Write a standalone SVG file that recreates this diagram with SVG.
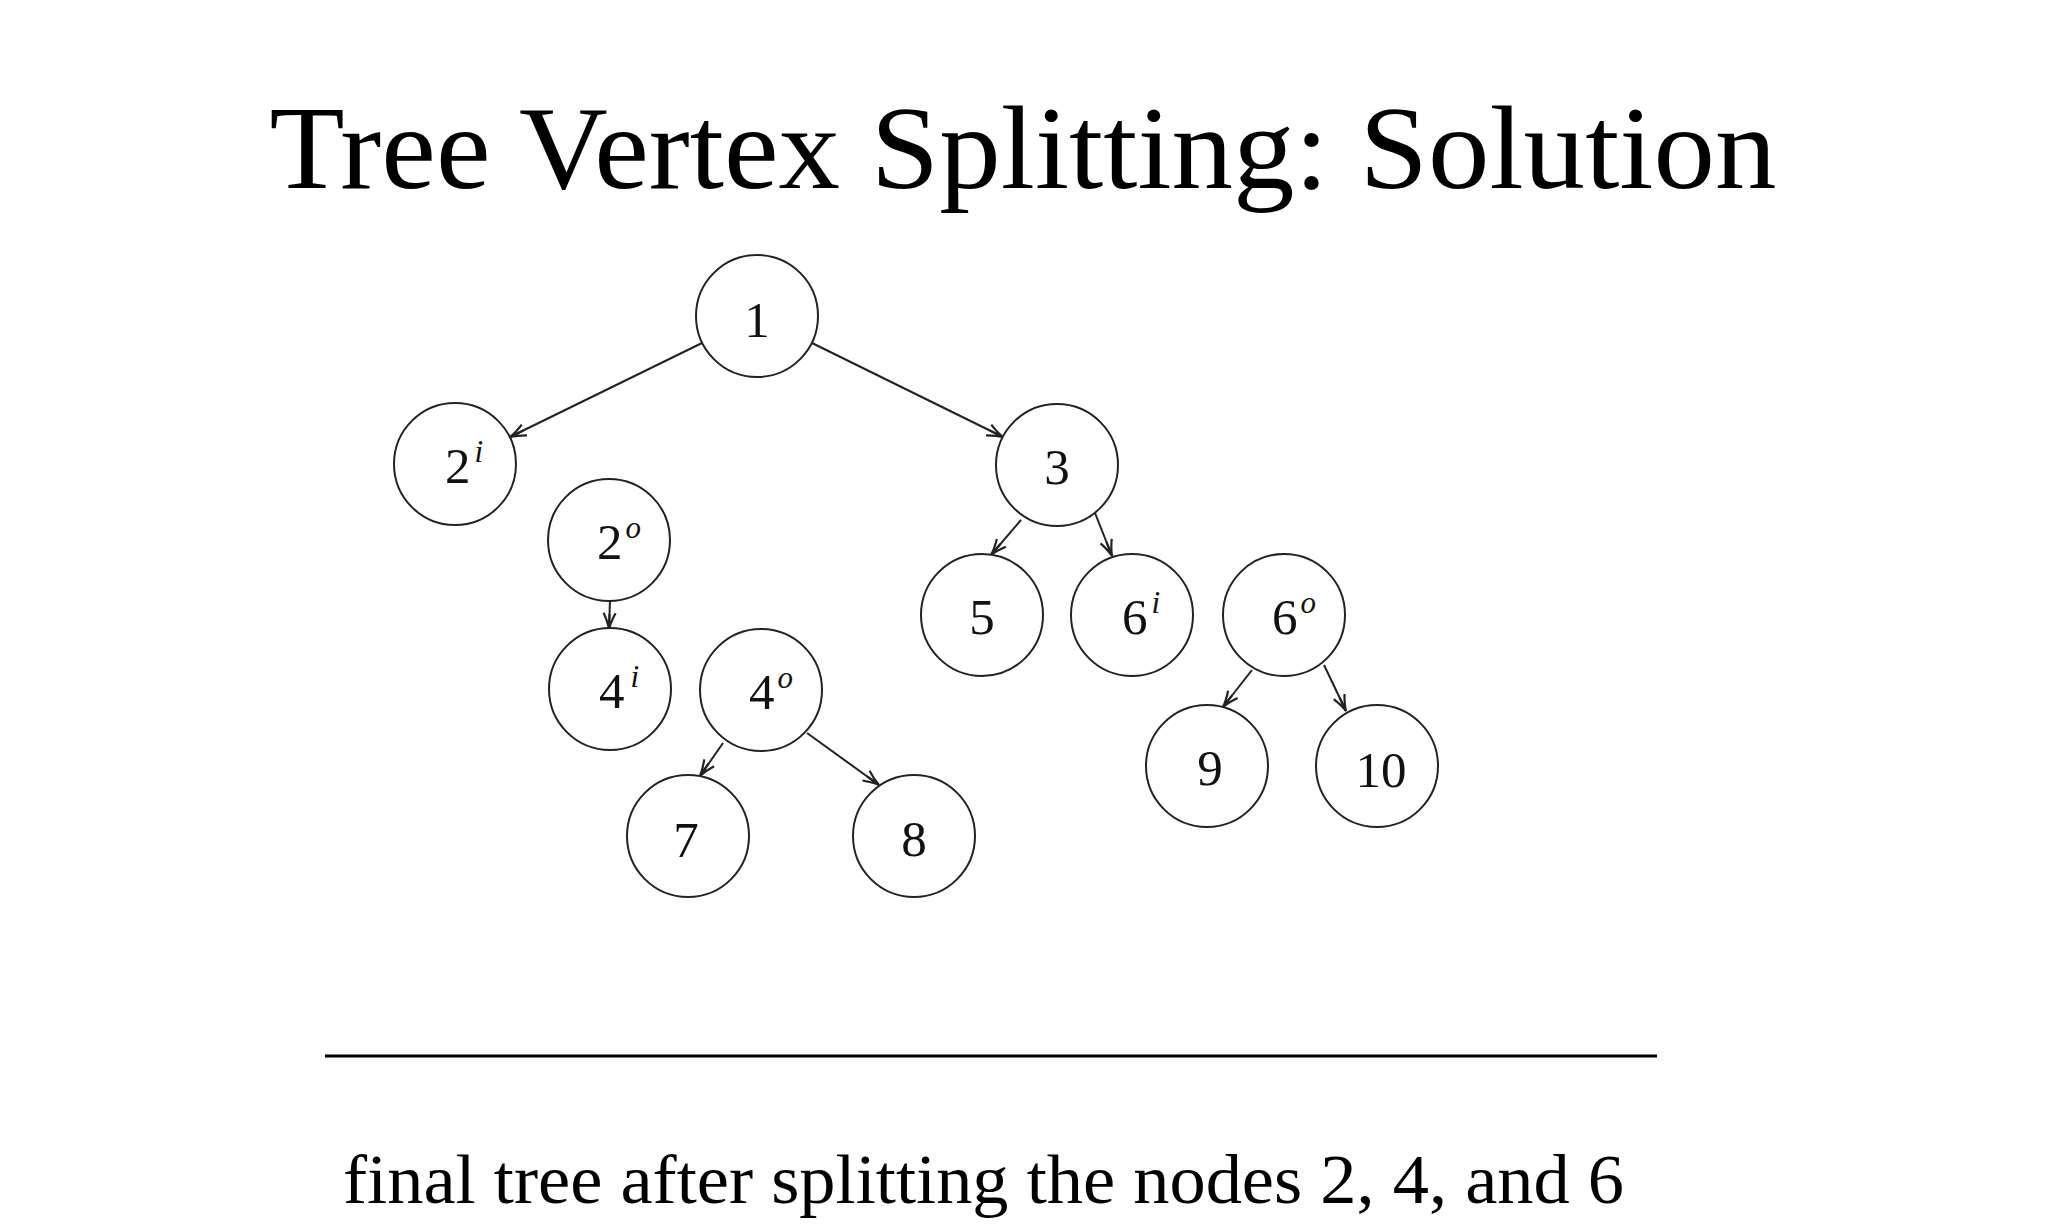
<svg xmlns="http://www.w3.org/2000/svg" width="2048" height="1229" viewBox="0 0 2048 1229">
<style>
.node circle{fill:#fff;stroke:#222;stroke-width:2}
.node text{font-family:"Liberation Serif",serif;font-size:51px;fill:#111;text-anchor:middle}
.sup{font-style:italic;font-size:31px}
.edge{stroke:#222;stroke-width:2;fill:none;marker-end:url(#arr)}
</style>
<defs>
<marker id="arr" markerUnits="userSpaceOnUse" viewBox="-18 -8 20 16" refX="0" refY="0" markerWidth="20" markerHeight="16" orient="auto" overflow="visible">
<path d="M-16,-6 Q-7,-1.5 0,0 Q-7,1.5 -16,6 M-15,0 L0,0" fill="none" stroke="#222" stroke-width="2.2"/>
</marker>
</defs>
<rect width="2048" height="1229" fill="#fff"/>
<text x="1023" y="188" font-family="'Liberation Serif',serif" font-size="118" text-anchor="middle" textLength="1507" lengthAdjust="spacingAndGlyphs" fill="#000">Tree Vertex Splitting: Solution</text>
<g id="connectors">
<line class="edge" x1="702" y1="343" x2="510" y2="437"/>
<line class="edge" x1="812" y1="343" x2="1003" y2="437"/>
<line class="edge" x1="1021" y1="520" x2="991" y2="555"/>
<line class="edge" x1="1095" y1="513" x2="1112" y2="556"/>
<line class="edge" x1="610" y1="600" x2="609" y2="629"/>
<line class="edge" x1="723" y1="743" x2="700" y2="776"/>
<line class="edge" x1="807" y1="733" x2="879" y2="785"/>
<line class="edge" x1="1252" y1="670" x2="1223" y2="707"/>
<line class="edge" x1="1324" y1="665" x2="1346" y2="711"/>
</g>
<g id="n1" class="node"><circle cx="757" cy="316" r="61"/><text x="757" y="337">1</text></g>
<g id="n2i" class="node"><circle cx="455" cy="464" r="61"/><text x="464" y="483">2<tspan class="sup" dx="4" dy="-21">i</tspan></text></g>
<g id="n3" class="node"><circle cx="1057" cy="465" r="61"/><text x="1057" y="484">3</text></g>
<g id="n2o" class="node"><circle cx="609" cy="540" r="61"/><text x="619" y="559">2<tspan class="sup" dx="3" dy="-21">o</tspan></text></g>
<g id="n5" class="node"><circle cx="982" cy="615" r="61"/><text x="982" y="634">5</text></g>
<g id="n6i" class="node"><circle cx="1132" cy="615" r="61"/><text x="1141" y="634">6<tspan class="sup" dx="4" dy="-21">i</tspan></text></g>
<g id="n6o" class="node"><circle cx="1284" cy="615" r="61"/><text x="1294" y="634">6<tspan class="sup" dx="3" dy="-21">o</tspan></text></g>
<g id="n4i" class="node"><circle cx="610" cy="689" r="61"/><text x="619" y="708">4<tspan class="sup" dx="6" dy="-21">i</tspan></text></g>
<g id="n4o" class="node"><circle cx="761" cy="690" r="61"/><text x="771" y="709">4<tspan class="sup" dx="3" dy="-21">o</tspan></text></g>
<g id="n9" class="node"><circle cx="1207" cy="766" r="61"/><text x="1210" y="785">9</text></g>
<g id="n10" class="node"><circle cx="1377" cy="766" r="61"/><text x="1381" y="787">10</text></g>
<g id="n7" class="node"><circle cx="688" cy="836" r="61"/><text x="686" y="857">7</text></g>
<g id="n8" class="node"><circle cx="914" cy="836" r="61"/><text x="914" y="856">8</text></g>
<line x1="325" y1="1056" x2="1657" y2="1056" stroke="#000" stroke-width="3"/>
<text x="343" y="1203" font-family="'Liberation Serif',serif" font-size="70" textLength="1281" lengthAdjust="spacingAndGlyphs" fill="#000">final tree after splitting the nodes 2, 4, and 6</text>
</svg>
